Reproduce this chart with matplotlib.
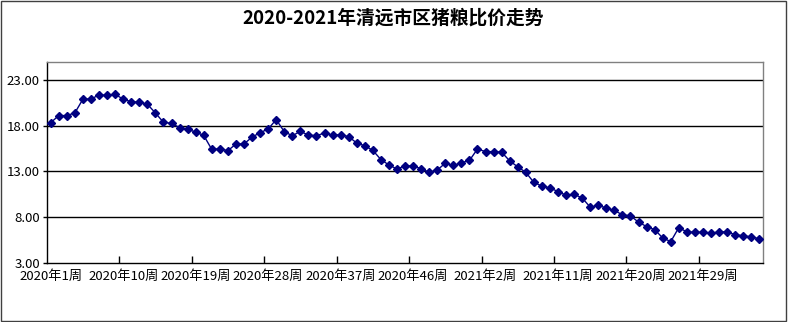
import matplotlib
matplotlib.use("Agg")
import matplotlib.pyplot as plt
from matplotlib.patches import Rectangle

plt.rcParams['font.family'] = ['Noto Sans CJK SC', 'DejaVu Sans']

title = "2020-2021年清远市区猪粮比价走势"

weeks_2020 = [f"2020年{i}周" for i in range(1, 54)]
weeks_2021 = [f"2021年{i}周" for i in range(1, 37)]
categories = weeks_2020 + weeks_2021

values = [
    18.33, 19.1, 19.1, 19.4, 20.9, 20.9, 21.36, 21.3, 21.4, 20.9,
    20.6, 20.56, 20.34, 19.38, 18.36, 18.25, 17.78, 17.6, 17.3, 16.93,
    15.4, 15.47, 15.26, 16.0, 16.0, 16.75, 17.23, 17.63, 18.66, 17.34,
    16.9, 17.37, 16.97, 16.9, 17.2, 16.97, 17.0, 16.8, 16.1, 15.8,
    15.3, 14.3, 13.7, 13.27, 13.6, 13.6, 13.3, 12.9, 13.15, 13.9,
    13.65, 13.94, 14.2, 15.45, 15.16, 15.16, 15.1, 14.15, 13.5, 12.9,
    11.8, 11.4, 11.2, 10.8, 10.4, 10.5, 10.1, 9.1, 9.3, 9.0,
    8.74, 8.26, 8.15, 7.46, 6.98, 6.65, 5.74, 5.34, 6.86, 6.4,
    6.35, 6.35, 6.25, 6.4, 6.4, 6.1, 5.97, 5.86, 5.64,
]

yticks = [3, 8, 13, 18, 23]
label_step = 9

fig = plt.figure(figsize=(7.88, 3.22), dpi=100)
ax = fig.add_axes([0.0593, 0.1832, 0.9094, 0.6243])

x = list(range(len(values)))
ax.plot(x, values, color='#000080', linewidth=1.0, marker='D', markersize=4.5,
        markeredgecolor='#000080', markerfacecolor='#000080', zorder=3)

ax.set_xlim(-0.5, len(values) - 0.5)
ax.set_ylim(3, 24.95)
ax.set_yticks(yticks)
ax.set_yticklabels([f"{v:.2f}" for v in yticks], fontsize=9.5)
for v in yticks[1:]:
    ax.axhline(v, color='black', linewidth=1.0, zorder=1)

major = list(range(0, len(values), label_step))
ax.set_xticks(major)
ax.set_xticklabels([categories[i] for i in major], fontsize=9.5)
ax.tick_params(axis='x', which='major', length=0, pad=5)
minor = [i + 8.5 for i in range(0, len(values) - 9, label_step)]
ax.set_xticks(minor, minor=True)
ax.tick_params(axis='x', which='minor', direction='in', length=5, width=1, color='black')
ax.tick_params(axis='y', length=3, width=1, pad=2)

ax.spines['left'].set_color('black')
ax.spines['bottom'].set_color('black')
ax.spines['top'].set_color('#808080')
ax.spines['right'].set_color('#808080')
for s in ax.spines.values():
    s.set_linewidth(1.0)

fig.text(0.499, 0.944, title, ha='center', va='center', fontsize=13.5, fontweight='bold')

fig.patches.append(Rectangle((0.001, 0.002), 0.997, 0.995, transform=fig.transFigure,
                             fill=False, edgecolor='#404040', linewidth=1.0))

fig.savefig("out.png", dpi=100)
